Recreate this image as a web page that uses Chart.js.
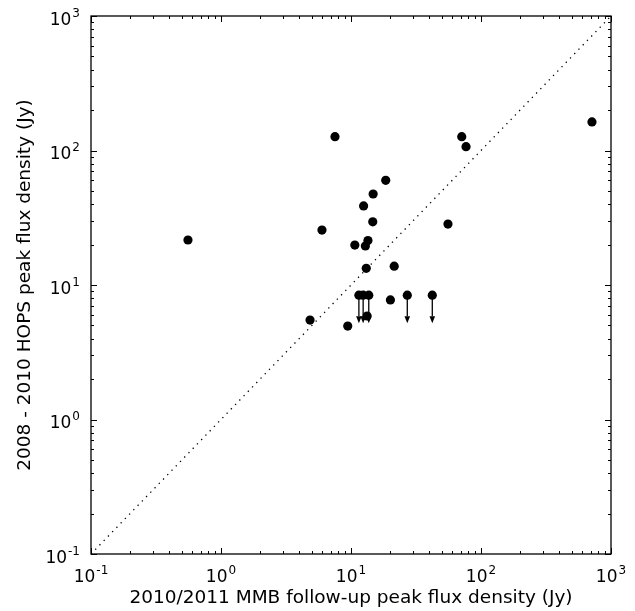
<!DOCTYPE html>
<html>
<head>
<meta charset="utf-8">
<script src="https://cdn.jsdelivr.net/npm/chart.js@4/dist/chart.umd.min.js"></script>
<style>
  html, body { margin: 0; padding: 0; background: #fff; }
  #wrap { width: 635px; height: 611px; }
</style>
</head>
<body>
<div id="wrap"><canvas id="fluxChart" width="635" height="611"></canvas></div>
<script>
  // detections: MMB follow-up flux (x) vs HOPS flux (y), Jy
  const detX = [0.557, 7.53, 71.1, 76.7, 18.5, 14.8, 12.5, 14.7, 55.7, 5.98,
                10.7, 13.5, 12.9, 13.1, 21.5, 20.1, 13.3, 4.84, 9.44, 714];
  const detY = [21.6, 126.7, 126.7, 106.7, 60.0, 47.5, 38.7, 29.5, 28.4, 25.6,
                19.8, 21.4, 19.5, 13.3, 13.8, 7.74, 5.88, 5.49, 4.95, 163];

  // HOPS non-detections (upper limits)
  const limX = [11.5, 12.4, 13.7, 27.1, 42.2];
  const limY = [8.4, 8.4, 8.4, 8.4, 8.4];

  // one-to-one line
  const lineX = [0.1, 1000];
  const lineY = [0.1, 1000];

  const tickValues = [0.1, 1, 10, 100, 1000];
  const tickExponents = ['-1', '0', '1', '2', '3'];

  const FONT = 'DejaVu Sans';

  function toPoints(xs, ys) {
    return xs.map((x, i) => ({ x: x, y: ys[i] }));
  }

  function logAxis(extra) {
    return Object.assign({
      type: 'logarithmic',
      min: 0.1,
      max: 1000,
      afterBuildTicks: function(scale) {
        scale.ticks = tickValues.map(v => ({ value: v }));
      },
      grid: { display: false, drawTicks: false },
      border: { display: false },
      ticks: { display: false }   // drawn below as 10 + raised exponent
    }, extra);
  }

  // frame with inward ticks on all four sides, plus 10^n labels
  const frameTicks = {
    id: 'frameTicks',
    afterDraw(chart) {
      const { ctx, chartArea: a, scales } = chart;
      ctx.save();
      ctx.strokeStyle = '#000';
      ctx.lineWidth = 1;
      ctx.beginPath();
      for (let k = -1; k <= 3; k++) {
        for (let m = 1; m <= 9; m++) {
          const v = m * Math.pow(10, k);
          if (v < 0.1 || v > 1000) continue;
          const len = m === 1 ? 6 : 3;
          const px = Math.round(scales.x.getPixelForValue(v)) + 0.5;
          ctx.moveTo(px, a.bottom); ctx.lineTo(px, a.bottom - len);
          ctx.moveTo(px, a.top); ctx.lineTo(px, a.top + len);
          const py = Math.round(scales.y.getPixelForValue(v)) + 0.5;
          ctx.moveTo(a.left, py); ctx.lineTo(a.left + len, py);
          ctx.moveTo(a.right, py); ctx.lineTo(a.right - len, py);
        }
      }
      ctx.stroke();
      ctx.lineWidth = 1.3;
      ctx.strokeRect(a.left, a.top, a.right - a.left, a.bottom - a.top);

      // tick labels
      ctx.fillStyle = '#000';
      ctx.textBaseline = 'alphabetic';
      ctx.textAlign = 'left';
      const baseFont = '17px "' + FONT + '"';
      const expFont = '12px "' + FONT + '"';
      tickValues.forEach((v, i) => {
        ctx.font = baseFont;
        const wBase = ctx.measureText('10').width;
        ctx.font = expFont;
        const wExp = ctx.measureText(tickExponents[i]).width;
        const total = wBase + 1 + wExp;

        const drawLabel = (x0, base) => {
          ctx.font = baseFont;
          ctx.fillText('10', x0, base);
          ctx.font = expFont;
          ctx.fillText(tickExponents[i], x0 + wBase + 1, base - 8);
        };
        // x axis
        const px = scales.x.getPixelForValue(v);
        drawLabel(px - total / 2, a.bottom + 28);
        // y axis
        const py = scales.y.getPixelForValue(v);
        drawLabel(a.left - 11 - total, py + 8.5);
      });
      ctx.restore();
    }
  };

  // downward arrows for upper limits
  const limitArrows = {
    id: 'limitArrows',
    beforeDatasetsDraw(chart) {
      const { ctx, scales } = chart;
      const arrowLen = 28, headLen = 7, headHalf = 2.8;
      ctx.save();
      ctx.strokeStyle = '#000';
      ctx.fillStyle = '#000';
      ctx.lineWidth = 1.3;
      limX.forEach((xv, i) => {
        const px = scales.x.getPixelForValue(xv);
        const py = scales.y.getPixelForValue(limY[i]);
        ctx.beginPath();
        ctx.moveTo(px, py);
        ctx.lineTo(px, py + arrowLen - headLen);
        ctx.stroke();
        ctx.beginPath();
        ctx.moveTo(px - headHalf, py + arrowLen - headLen);
        ctx.lineTo(px + headHalf, py + arrowLen - headLen);
        ctx.lineTo(px, py + arrowLen);
        ctx.closePath();
        ctx.fill();
      });
      ctx.restore();
    }
  };

  const ctxFlux = document.getElementById('fluxChart').getContext('2d');

  new Chart(ctxFlux, {
    type: 'scatter',
    data: {
      datasets: [
        {
          label: 'one-to-one',
          type: 'line',
          data: toPoints(lineX, lineY),
          borderColor: '#000',
          borderWidth: 1.3,
          borderDash: [1.3, 4.8],
          pointRadius: 0,
          fill: false
        },
        {
          label: 'detections',
          data: toPoints(detX, detY),
          backgroundColor: '#000',
          borderColor: '#000',
          pointRadius: 4.6,
          pointBorderWidth: 0
        },
        {
          label: 'upper limits',
          data: toPoints(limX, limY),
          backgroundColor: '#000',
          borderColor: '#000',
          pointRadius: 4.6,
          pointBorderWidth: 0
        }
      ]
    },
    options: {
      responsive: false,
      animation: false,
      layout: { padding: { top: 16, right: 24, bottom: 0, left: 0 } },
      plugins: {
        legend: { display: false },
        tooltip: { enabled: false }
      },
      scales: {
        x: logAxis({
          position: 'bottom',
          afterFit: function(scale) { scale.height = 57; },
          title: {
            display: true,
            text: '2010/2011 MMB follow-up peak flux density (Jy)',
            color: '#000',
            font: { family: FONT, size: 18.5 },
            padding: { top: 0, bottom: 2 }
          }
        }),
        y: logAxis({
          position: 'left',
          afterFit: function(scale) { scale.width = 91; },
          title: {
            display: true,
            text: '2008 - 2010 HOPS peak flux density (Jy)',
            color: '#000',
            font: { family: FONT, size: 18.5 },
            padding: { top: 14, bottom: 0 }
          }
        })
      }
    },
    plugins: [frameTicks, limitArrows]
  });
</script>
</body>
</html>
